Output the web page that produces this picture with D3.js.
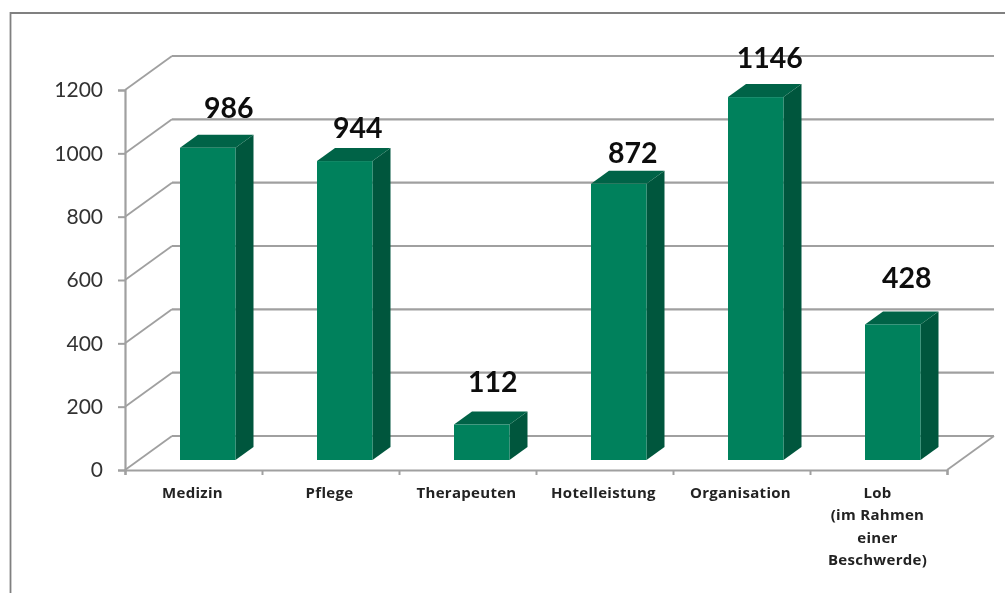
<!DOCTYPE html>
<html><head><meta charset="utf-8">
<script src="https://cdn.jsdelivr.net/npm/d3@7"></script>
<style>html,body{margin:0;padding:0;background:#fff}svg{display:block}text{font-family:Lato,"Open Sans",sans-serif}</style>
</head><body><svg id="c" width="1005" height="593"></svg>
<script>
const categories = [["Medizin"],["Pflege"],["Therapeuten"],["Hotelleistung"],["Organisation"],["Lob","(im Rahmen","einer","Beschwerde)"]];
const values = [986,944,112,872,1146,428];
const yTicks = [0,200,400,600,800,1000,1200];
const labelNudgeX = [21,13,11,14,14,14];
const labelNudgeY = [-30,-23,-33,-21,-29,-36];

const svg = d3.select("#c");
const defs = svg.append("defs");
defs.append("filter").attr("id","soft").append("feGaussianBlur").attr("stdDeviation",0.5);
const root = svg.append("g").attr("filter","url(#soft)");

const W=1005,H=593, left=125, right=947, y0=470, y1=90, depthX=47, depthY=34;
const grey="#a0a0a0";
const x = d3.scaleBand().domain(d3.range(categories.length)).range([left,right]);
const y = d3.scaleLinear().domain([0,1200]).range([y0,y1]);

// frame
root.append("path").attr("d",`M10.5,${H+5}V13H${W+5}`).attr("fill","none").attr("stroke","#808080").attr("stroke-width",1.8);

// back grid + side wall lines
yTicks.forEach(t=>{
  root.append("line").attr("x1",left+depthX).attr("x2",right+depthX).attr("y1",y(t)-depthY).attr("y2",y(t)-depthY).attr("stroke",grey).attr("stroke-width",2.2);
  root.append("line").attr("x1",left).attr("x2",left+depthX).attr("y1",y(t)).attr("y2",y(t)-depthY).attr("stroke",grey).attr("stroke-width",1.8);
});
// floor right edge
root.append("line").attr("x1",right).attr("x2",right+depthX).attr("y1",y0).attr("y2",y0-depthY).attr("stroke",grey).attr("stroke-width",1.8);

// axes
const yAxis = root.append("g").attr("transform",`translate(${left},0)`).call(d3.axisLeft(y).tickValues(yTicks).tickSize(7).tickPadding(15).tickFormat(d3.format("d")));
yAxis.select(".domain").attr("stroke",grey).attr("stroke-width",2.2);
yAxis.selectAll(".tick line").attr("stroke",grey).attr("stroke-width",2);
yAxis.selectAll("text").attr("font-size",21).attr("fill","#333").style("font-family","Lato");

const xAxis = root.append("g").attr("transform",`translate(0,${y0})`).call(d3.axisBottom(d3.scaleLinear().domain([0,6]).range([left,right])).tickValues(d3.range(7)).tickSize(5).tickFormat(""));
xAxis.select(".domain").attr("stroke",grey).attr("stroke-width",2.2);
xAxis.selectAll(".tick line").attr("stroke",grey).attr("stroke-width",2);

// bars
const barW=55.5, dX=18, dY=13, barOffset=55, lift=10;
const by = v => y(v)-lift;
const bars = root.selectAll(".bar").data(values).join("g").attr("class","bar");
bars.append("path").attr("fill","#04573d").attr("d",(v,i)=>{const a=x(i)+barOffset+barW;return `M${a},${by(v)}L${a+dX},${by(v)-dY}V${by(0)-dY}L${a},${by(0)}Z`;});
bars.append("path").attr("fill","#056346").attr("d",(v,i)=>{const a=x(i)+barOffset;return `M${a},${by(v)}L${a+dX},${by(v)-dY}H${a+barW+dX}L${a+barW},${by(v)}Z`;});
bars.append("rect").attr("fill","#05815c").attr("x",(v,i)=>x(i)+barOffset).attr("width",barW).attr("y",v=>by(v)).attr("height",v=>by(0)-by(v));

// value labels
root.selectAll(".val").data(values).join("text").attr("class","val")
  .attr("x",(v,i)=>x(i)+barOffset+barW/2+labelNudgeX[i])
  .attr("y",(v,i)=>by(v)+labelNudgeY[i])
  .attr("text-anchor","middle").attr("font-size",28.5).attr("font-weight",700).attr("fill","#111").text(v=>v);

// category labels
categories.forEach((lines,i)=>{
  const t=root.append("text").attr("text-anchor","middle").attr("font-size",15).attr("font-weight",700).attr("fill","#222").style("font-family","'Open Sans'").attr("letter-spacing",0.3);
  const cx=x(i)+x.bandwidth()/2-1;
  lines.forEach((l,k)=>t.append("tspan").attr("x",cx).attr("y",498+k*22.3).text(l));
});
</script></body></html>
